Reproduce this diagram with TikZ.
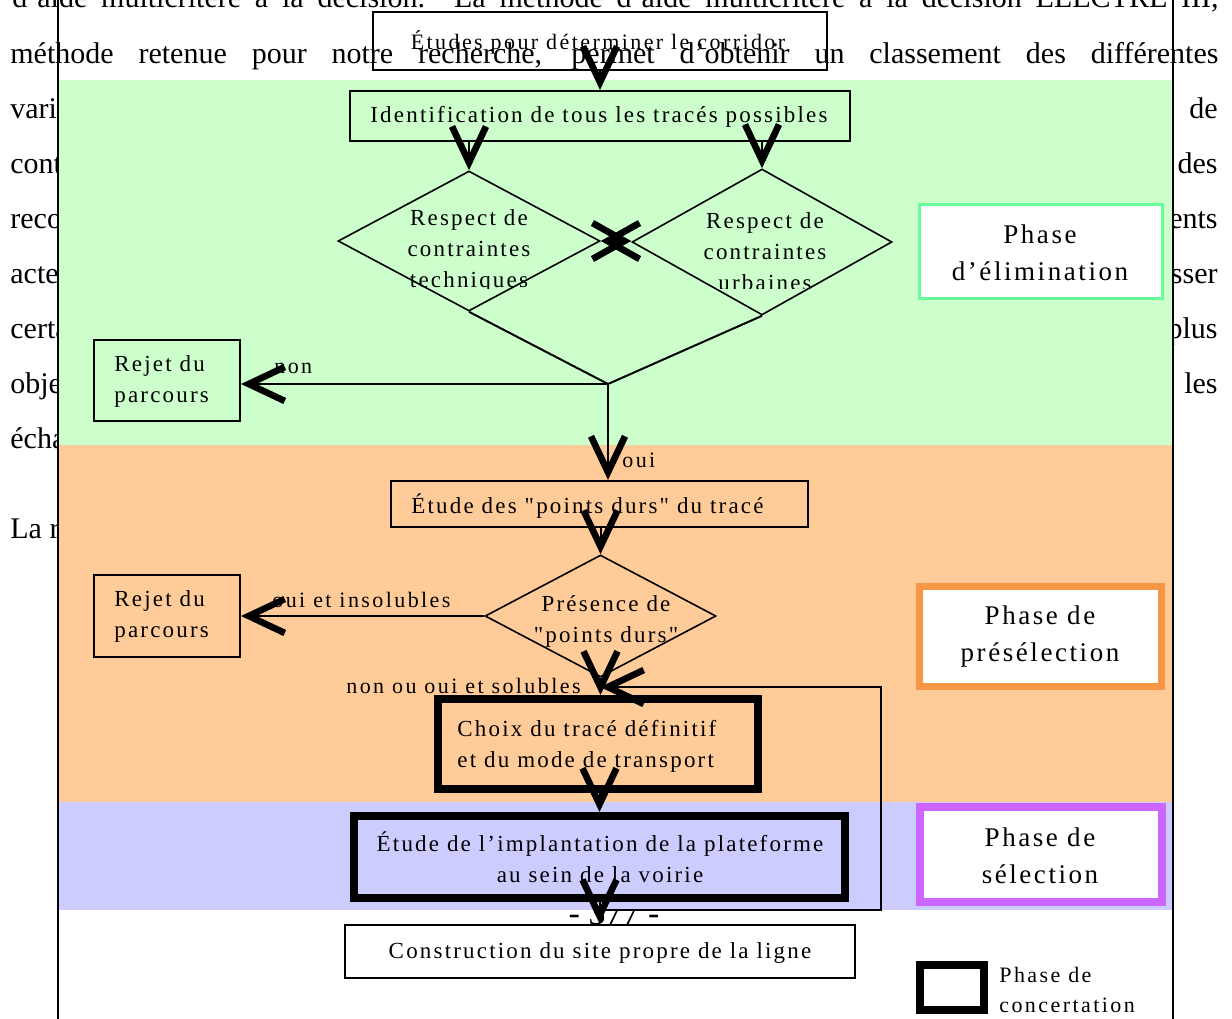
\documentclass[tikz,border=0pt]{standalone}
\usepackage{fontspec}
\setmainfont{Liberation Serif}
\newfontfamily\dfont[LetterSpace=9.5]{Liberation Serif}
\newfontfamily\lfont[LetterSpace=11]{Liberation Serif}
\newfontfamily\tfont[LetterSpace=11]{Liberation Serif}
\usetikzlibrary{arrows.meta,shapes.geometric}
\definecolor{bgreen}{HTML}{CCFFCC}
\definecolor{borange}{HTML}{FFCC99}
\definecolor{bblue}{HTML}{CCCCFF}
\definecolor{pgreen}{HTML}{66FF99}
\definecolor{porange}{HTML}{F79646}
\definecolor{ppurple}{HTML}{CC66FF}
\tikzset{
 body/.style={anchor=base west, inner sep=0pt, font=\fontsize{15pt}{18pt}\selectfont},
 dtxt/.style={inner sep=0pt, font=\dfont\fontsize{11.5pt}{15.5pt}\selectfont},
 ttxt/.style={inner sep=0pt, font=\tfont\fontsize{11pt}{15pt}\selectfont},
 ltxt/.style={inner sep=0pt, font=\lfont\fontsize{11pt}{15pt}\selectfont},
 ptxt/.style={inner sep=0pt, align=center, font=\dfont\fontsize{13.5pt}{18.5pt}\selectfont},
 box/.style={draw, line width=1pt, inner sep=0pt},
 thickbox/.style={draw, line width=4pt, inner sep=0pt},
 dia/.style={diamond, draw, line width=0.8pt, inner sep=0pt},
 conn/.style={line width=1pt},
 arr/.style={line width=1pt, -{Straight Barb[length=18pt,width=17pt,line width=3.3pt]}},
 arrd/.style={line width=1pt, {Straight Barb[length=16pt,width=18pt,line width=3.3pt]}-{Straight Barb[length=16pt,width=18pt,line width=3.3pt]}},
}
\begin{document}
\begin{tikzpicture}[x=0.5pt,y=-0.5pt]
\useasboundingbox (0,0) rectangle (1232,1018);
% background page text
\node[body] (t1) at (12,7) {\makebox[603pt][s]{d’aide multicritère à la décision. La méthode d’aide multicritère à la décision ELECTRE III,}};
\node[body] (t2) at (10,63) {\makebox[604pt][s]{méthode retenue pour notre recherche, permet d’obtenir un classement des différentes}};
\node[body] (l1) at (10,118) {variantes};
\node[body] (l2) at (10,173) {contraintes};
\node[body] (l3) at (10,228) {recommandations};
\node[body] (l4) at (10,283) {acteurs};
\node[body] (l5) at (10,338) {certaines};
\node[body] (l6) at (10,393) {objectifs};
\node[body] (l7) at (10,448) {échanges};
\node[body] (l8) at (10,538) {La recherche};
\node[body, anchor=base east] (r1) at (1218,118) {de};
\node[body, anchor=base east] (r2) at (1218,173) {des};
\node[body, anchor=base east] (r3) at (1218,228) {éléments};
\node[body, anchor=base east] (r4) at (1218,283) {laisser};
\node[body, anchor=base east] (r5) at (1218,338) {plus};
\node[body, anchor=base east] (r6) at (1218,393) {les};
\node[anchor=base, inner sep=0pt, font=\fontsize{17pt}{20pt}\selectfont] (pn) at (614,924) {- 377 -};
% phase bands
\fill[bgreen] (58,80) rectangle (1173,445);
\fill[borange] (58,445) rectangle (1173,802);
\fill[bblue] (58,802) rectangle (1173,910);
\draw[line width=1pt] (58,-20) -- (58,1040);
\draw[line width=1pt] (1173,-20) -- (1173,1040);
% boxes
\node[box, line width=0.9pt, minimum width=227pt, minimum height=29pt] (top) at (600,41) {};
\node[ttxt] (topt) at (598,42) {Études pour déterminer le corridor};
\node[box, fill=bgreen, minimum width=250pt, minimum height=25pt] (ident) at (600,116) {};
\node[dtxt, anchor=west] (identt) at (370,117) {Identification de tous les tracés possibles};
\node[dia, fill=bgreen, minimum width=131pt, minimum height=70pt] (d1) at (469,241) {};
\node[dia, fill=bgreen, minimum width=130pt, minimum height=73pt] (d2) at (762,242) {};
\begin{scope}
\clip (300,150) rectangle (900,288);
\node[dtxt, align=center] (d1t) at (469,251) {Respect de\\contraintes\\techniques};
\node[dtxt, align=center] (d2t) at (765,252) {Respect de\\contraintes\\urbaines};
\end{scope}
\node[box, fill=bgreen, minimum width=73pt, minimum height=40.5pt] (rej1) at (167,380.5) {};
\node[dtxt, align=left, anchor=west] (rej1t) at (114,381.5) {Rejet du\\parcours};
\node[box, fill=borange, minimum width=208.5pt, minimum height=23pt] (etude) at (599.5,504) {};
\node[dtxt, anchor=west] (etudet) at (411,506) {Étude des "points durs" du tracé};
\node[dia, fill=borange, minimum width=115.5pt, minimum height=61pt] (d3) at (600.5,616) {};
\node[dtxt, align=center] (d3t) at (606,621) {Présence de\\"points durs"};
\node[box, fill=borange, minimum width=73pt, minimum height=41pt] (rej2) at (167,616) {};
\node[dtxt, align=left, anchor=west] (rej2t) at (114,616.5) {Rejet du\\parcours};
\node[thickbox, fill=borange, minimum width=160pt, minimum height=45pt] (choix) at (598,744) {};
\node[dtxt, align=left, anchor=west] (choixt) at (457,746) {Choix du tracé définitif\\et du mode de transport};
\node[thickbox, fill=bblue, minimum width=245.5pt, minimum height=41pt] (impl) at (599.5,857) {};
\node[dtxt, align=center] (implt) at (600,857.5) {Étude de l’implantation de la plateforme\\au sein de la voirie};
\node[box, fill=white, minimum width=255pt, minimum height=26.5pt] (constr) at (599.5,951) {};
\node[dtxt] (constrt) at (600,953) {Construction du site propre de la ligne};
% phase labels
\node[draw=pgreen, line width=1.5pt, fill=white, minimum width=121.5pt, minimum height=47pt, inner sep=0pt] (ph1) at (1041,251) {};
\node[ptxt] (ph1t) at (1040,252.5) {Phase\\d’élimination};
\node[draw=porange, line width=3.5pt, fill=white, minimum width=121pt, minimum height=50pt, inner sep=0pt] (ph2) at (1040.5,636) {};
\node[ptxt] (ph2t) at (1040,636.5) {Phase de\\présélection};
\node[draw=ppurple, line width=4pt, fill=white, minimum width=121pt, minimum height=47.5pt, inner sep=0pt] (ph3) at (1041,854.5) {};
\node[ptxt] (ph3t) at (1040,856) {Phase de\\sélection};
\node[thickbox, line width=3.75pt, fill=white, minimum width=32pt, minimum height=22.5pt] (leg) at (952,987.5) {};
\node[ltxt, align=left, anchor=west] (legt) at (999,990) {Phase de\\concertation};
% edge labels
\node[ltxt, anchor=base west] (lnon) at (274,373) {non};
\node[ltxt, anchor=base west] (loui) at (622,467) {oui};
\node[ltxt, anchor=base west] (lins) at (272,607) {oui et insolubles};
\node[ltxt, anchor=base east] (lsol) at (581,693) {non ou oui et solubles};
% connectors
\coordinate (m) at (608,384);
\coordinate (lb) at (600,910);
\coordinate (lc) at (881,910);
\coordinate (ld) at (881,687);
\coordinate (le) at (600,687);
\draw[arr] (top.south) -- (ident.north);
\draw[arr] (ident.south -| d1.north) -- (d1.north);
\draw[arr] (ident.south -| d2.north) -- (d2.north);
\draw[arrd] (d1.east) -- (d1.east -| d2.west);
\draw[conn] (d1.south) -- (m) -- (d2.south);
\draw[arr] (m) -- (m -| rej1.east);
\draw[arr] (m) -- (m |- etude.north);
\draw[arr] (etude.south -| d3.north) -- (d3.north);
\draw[arr] (d3.west) -- (d3.west -| rej2.east);
\draw[arr] (d3.south) -- (d3.south |- choix.north);
\draw[arr] (choix.south -| impl.north) -- (impl.north);
\draw[arr] (impl.south -| constr.north) -- (constr.north);
\draw[arr] (lb) -- (lc) -- (ld) -- (le);
\end{tikzpicture}
\end{document}
